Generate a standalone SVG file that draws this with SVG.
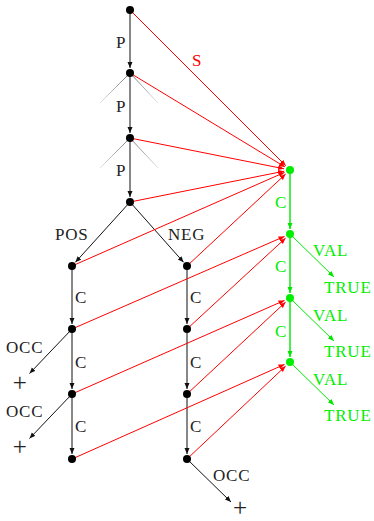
<svg xmlns="http://www.w3.org/2000/svg" width="374" height="521" viewBox="0 0 374 521">
<style>
text{font-family:"Liberation Serif","DejaVu Serif",serif;font-size:17px;letter-spacing:0.8px}
.k{fill:#222}
.r{fill:#ff0000}
.g{fill:#00ee00}
.plus{font-size:25px;letter-spacing:0}
.eb{stroke:#111;stroke-width:1;fill:none}
.er{stroke:#ff0000;stroke-width:1;fill:none}
.eg{stroke:#00e600;stroke-width:1.4;fill:none}
.eg2{stroke:#00e600;stroke-width:1;fill:none}
.dot{fill:#000}
.gdot{fill:#00ee00}
</style>
<defs>
<marker id="ab" markerUnits="userSpaceOnUse" markerWidth="8" markerHeight="8" refX="6" refY="2.5" orient="auto"><path d="M0,0 L6,2.5 L0,5 z" fill="#111"/></marker>
<marker id="ar" markerUnits="userSpaceOnUse" markerWidth="8" markerHeight="8" refX="6" refY="2.5" orient="auto"><path d="M0,0 L6,2.5 L0,5 z" fill="#ff0000"/></marker>
<marker id="ag" markerUnits="userSpaceOnUse" markerWidth="8" markerHeight="8" refX="6" refY="2.5" orient="auto"><path d="M0,0 L6,2.5 L0,5 z" fill="#00e600"/></marker>
<linearGradient id="gl" x1="1" y1="0" x2="0" y2="1"><stop offset="0" stop-color="#777"/><stop offset="1" stop-color="#e4e4e4"/></linearGradient>
<linearGradient id="gr" x1="0" y1="0" x2="1" y2="1"><stop offset="0" stop-color="#777"/><stop offset="1" stop-color="#e4e4e4"/></linearGradient>
</defs>

<g id="cones">
<line x1="130" y1="73" x2="100" y2="103" stroke="url(#gl)" stroke-width="1"/>
<line x1="130" y1="73" x2="158" y2="103" stroke="url(#gr)" stroke-width="1"/>
<line x1="130" y1="138" x2="100" y2="168" stroke="url(#gl)" stroke-width="1"/>
<line x1="130" y1="138" x2="158" y2="168" stroke="url(#gr)" stroke-width="1"/>
</g>

<g id="connectors">
<line class="eb" x1="130" y1="10" x2="130" y2="68" marker-end="url(#ab)"/>
<line class="eb" x1="130" y1="73" x2="130" y2="133" marker-end="url(#ab)"/>
<line class="eb" x1="130" y1="138" x2="130" y2="197" marker-end="url(#ab)"/>
<line class="eb" x1="130" y1="202" x2="75.4" y2="262.3" marker-end="url(#ab)"/>
<line class="eb" x1="130" y1="202" x2="183.6" y2="262.3" marker-end="url(#ab)"/>
<line class="eb" x1="72" y1="266" x2="72" y2="324" marker-end="url(#ab)"/>
<line class="eb" x1="72" y1="329" x2="72" y2="389" marker-end="url(#ab)"/>
<line class="eb" x1="72" y1="394" x2="72" y2="454" marker-end="url(#ab)"/>
<line class="eb" x1="187" y1="266" x2="187" y2="324" marker-end="url(#ab)"/>
<line class="eb" x1="187" y1="329" x2="187" y2="389" marker-end="url(#ab)"/>
<line class="eb" x1="187" y1="394" x2="187" y2="454" marker-end="url(#ab)"/>
<line class="eb" x1="72" y1="329" x2="29.5" y2="373.5" marker-end="url(#ab)"/>
<line class="eb" x1="72" y1="394" x2="29.5" y2="438.5" marker-end="url(#ab)"/>
<line class="eb" x1="187" y1="459" x2="231" y2="502" marker-end="url(#ab)"/>

<line class="er" x1="130" y1="10" x2="285.8" y2="165.8" marker-end="url(#ar)"/>
<line class="er" x1="130" y1="73" x2="284.9" y2="166.9" marker-end="url(#ar)"/>
<line class="er" x1="130" y1="138" x2="284.1" y2="168.8" marker-end="url(#ar)"/>
<line class="er" x1="130" y1="202" x2="284.1" y2="171.2" marker-end="url(#ar)"/>
<line class="er" x1="72" y1="266" x2="284.5" y2="172.4" marker-end="url(#ar)"/>
<line class="er" x1="187" y1="266" x2="285.6" y2="174.1" marker-end="url(#ar)"/>
<line class="er" x1="72" y1="329" x2="284.5" y2="236.4" marker-end="url(#ar)"/>
<line class="er" x1="187" y1="329" x2="285.6" y2="238.1" marker-end="url(#ar)"/>
<line class="er" x1="72" y1="394" x2="284.5" y2="300.4" marker-end="url(#ar)"/>
<line class="er" x1="187" y1="394" x2="285.6" y2="302.1" marker-end="url(#ar)"/>
<line class="er" x1="72" y1="459" x2="284.5" y2="364.4" marker-end="url(#ar)"/>
<line class="er" x1="187" y1="459" x2="285.6" y2="366.1" marker-end="url(#ar)"/>

<line class="eg" x1="290" y1="170" x2="290" y2="229" marker-end="url(#ag)"/>
<line class="eg" x1="290" y1="234" x2="290" y2="293" marker-end="url(#ag)"/>
<line class="eg" x1="290" y1="298" x2="290" y2="357" marker-end="url(#ag)"/>
<line class="eg2" x1="290" y1="234" x2="334" y2="277" marker-end="url(#ag)"/>
<line class="eg2" x1="290" y1="298" x2="334" y2="341" marker-end="url(#ag)"/>
<line class="eg2" x1="290" y1="362" x2="334" y2="405" marker-end="url(#ag)"/>

<text class="k" x="116" y="48">P</text>
<text class="k" x="116" y="112">P</text>
<text class="k" x="116" y="176">P</text>
<text class="r" x="192" y="66">S</text>
<text class="k" x="55" y="240">POS</text>
<text class="k" x="168" y="240">NEG</text>
<text class="k" x="75" y="303">C</text>
<text class="k" x="75" y="368">C</text>
<text class="k" x="75" y="432">C</text>
<text class="k" x="190" y="303">C</text>
<text class="k" x="190" y="368">C</text>
<text class="k" x="190" y="432">C</text>
<text class="k" x="6" y="353">OCC</text>
<text class="k" x="6" y="417">OCC</text>
<text class="k" x="213" y="481">OCC</text>
<text class="g" x="275" y="208">C</text>
<text class="g" x="275" y="272">C</text>
<text class="g" x="275" y="337">C</text>
<text class="g" x="313" y="256">VAL</text>
<text class="g" x="313" y="321">VAL</text>
<text class="g" x="313" y="385">VAL</text>
</g>

<g id="n_root"><circle class="dot" cx="130" cy="10" r="4"/></g>
<g id="n_p1"><circle class="dot" cx="130" cy="73" r="4"/></g>
<g id="n_p2"><circle class="dot" cx="130" cy="138" r="4"/></g>
<g id="n_p3"><circle class="dot" cx="130" cy="202" r="4"/></g>
<g id="n_pos"><circle class="dot" cx="72" cy="266" r="4"/></g>
<g id="n_pos1"><circle class="dot" cx="72" cy="329" r="4"/></g>
<g id="n_pos2"><circle class="dot" cx="72" cy="394" r="4"/></g>
<g id="n_pos3"><circle class="dot" cx="72" cy="459" r="4"/></g>
<g id="n_neg"><circle class="dot" cx="187" cy="266" r="4"/></g>
<g id="n_neg1"><circle class="dot" cx="187" cy="329" r="4"/></g>
<g id="n_neg2"><circle class="dot" cx="187" cy="394" r="4"/></g>
<g id="n_neg3"><circle class="dot" cx="187" cy="459" r="4"/></g>
<g id="n_g1"><circle class="gdot" cx="290" cy="170" r="4"/></g>
<g id="n_g2"><circle class="gdot" cx="290" cy="234" r="4"/></g>
<g id="n_g3"><circle class="gdot" cx="290" cy="298" r="4"/></g>
<g id="n_g4"><circle class="gdot" cx="290" cy="362" r="4"/></g>
<g id="n_plus1"><text class="k plus" x="19.7" y="391" text-anchor="middle">+</text></g>
<g id="n_plus2"><text class="k plus" x="19.7" y="455" text-anchor="middle">+</text></g>
<g id="n_plus3"><text class="k plus" x="240" y="515.5" text-anchor="middle">+</text></g>
<g id="n_true1"><text class="g" x="324" y="293">TRUE</text></g>
<g id="n_true2"><text class="g" x="324" y="357">TRUE</text></g>
<g id="n_true3"><text class="g" x="324" y="421">TRUE</text></g>
</svg>
